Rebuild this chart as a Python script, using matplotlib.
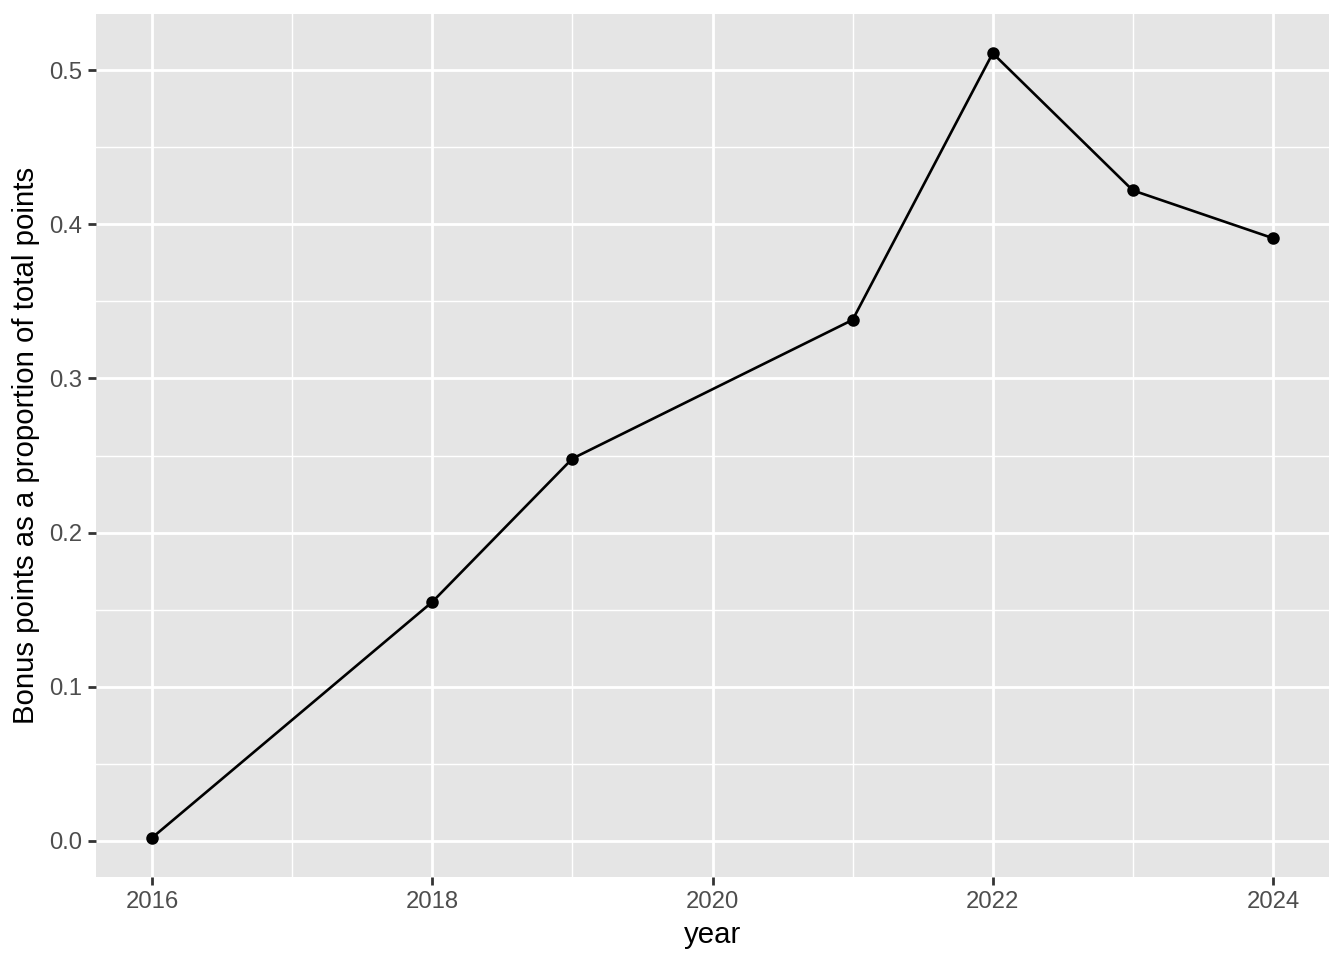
import matplotlib
matplotlib.use("Agg")
import matplotlib.pyplot as plt
from matplotlib.ticker import MultipleLocator

plt.rcParams['font.family'] = ['Liberation Sans', 'DejaVu Sans']

years = [2016, 2018, 2019, 2021, 2022, 2023, 2024]
proportion = [0.002, 0.155, 0.248, 0.338, 0.511, 0.422, 0.391]
x_ticks = [2016, 2018, 2020, 2022, 2024]
y_ticks = [0.0, 0.1, 0.2, 0.3, 0.4, 0.5]

fig = plt.figure(figsize=(6.72, 4.8), dpi=200)
ax = fig.add_axes([96/1344, 1 - 877/960, (1329 - 96)/1344, (877 - 14)/960])
ax.set_facecolor('#E5E5E5')
for s in ax.spines.values():
    s.set_visible(False)

ax.plot(years, proportion, color='black', linewidth=0.95, zorder=3)
ax.plot(years, proportion, 'o', color='black', markersize=3.5, zorder=4)

xmin, xmax = min(years), max(years)
xr = (xmax - xmin) * 0.05
ymin, ymax = min(proportion), max(proportion)
yr = (ymax - ymin) * 0.05
ax.set_xlim(xmin - xr, xmax + xr)
ax.set_ylim(ymin - yr, ymax + yr)

ax.set_xticks(x_ticks)
ax.set_yticks(y_ticks)
ax.set_xticklabels([str(v) for v in x_ticks])
ax.set_yticklabels([f"{v:.1f}" for v in y_ticks])
ax.xaxis.set_minor_locator(MultipleLocator(1))
ax.yaxis.set_minor_locator(MultipleLocator(0.05))
ax.grid(which='major', color='white', linewidth=1.0, zorder=1)
ax.grid(which='minor', color='white', linewidth=0.5, zorder=1)
ax.set_axisbelow(True)

ax.tick_params(which='major', length=2.75, width=1.0, color='#333333',
               labelsize=8.6, labelcolor='#4D4D4D', pad=2.2)
ax.tick_params(which='minor', length=0)

ax.set_xlabel('year', fontsize=10.6, color='black', labelpad=3)
ax.set_ylabel('Bonus points as a proportion of total points', fontsize=10.6, color='black', labelpad=3.2)

fig.savefig('out.png', dpi=200, facecolor='white')
